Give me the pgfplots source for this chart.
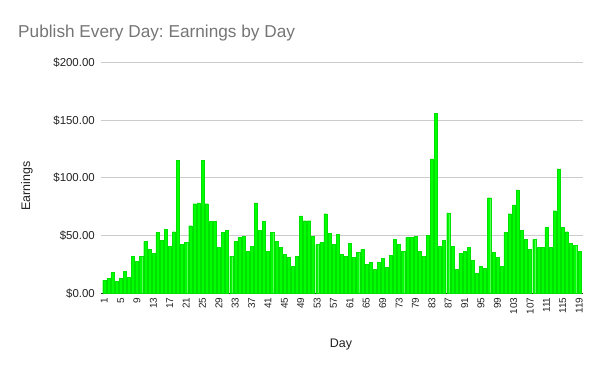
\documentclass[border=0pt]{standalone}
\usepackage{pgfplots}
\pgfplotsset{compat=1.18}
\usepackage{fontspec}
\setmainfont{Liberation Sans}
\frenchspacing
\definecolor{bargreen}{RGB}{0,255,0}
\definecolor{baredge}{RGB}{0,225,0}
\definecolor{gridgray}{RGB}{204,204,204}
\definecolor{titlegray}{RGB}{117,117,117}
\definecolor{txt}{RGB}{34,34,34}
\pgfplotstableread{
x y
1 11.2
2 12.9
3 18.1
4 10.3
5 12.9
6 19.0
7 13.8
8 32.2
9 27.6
10 32.2
11 44.8
12 37.9
13 34.5
14 52.6
15 45.7
16 55.2
17 40.5
18 53.4
19 115.5
20 42.2
21 44.0
22 58.6
23 77.6
24 78.4
25 115.5
26 77.6
27 62.1
28 62.1
29 39.7
30 52.6
31 54.3
32 32.2
33 44.8
34 48.3
35 49.1
36 36.2
37 40.5
38 78.4
39 54.3
40 62.1
41 36.2
42 52.6
43 44.8
44 39.7
45 33.6
46 31.0
47 23.3
48 32.2
49 67.2
50 62.9
51 62.9
52 49.1
53 42.2
54 44.0
55 69.0
56 51.7
57 42.2
58 50.9
59 33.6
60 31.9
61 43.1
62 31.0
63 35.3
64 37.9
65 25.0
66 26.7
67 20.7
68 26.7
69 30.2
70 22.4
71 32.8
72 46.6
73 42.2
74 36.2
75 48.3
76 48.3
77 49.1
78 36.2
79 31.9
80 50.0
81 116.4
82 156.0
83 40.5
84 45.7
85 69.8
86 40.5
87 20.7
88 34.5
89 36.2
90 39.7
91 28.4
92 17.2
93 23.3
94 21.6
95 82.8
96 35.3
97 31.0
98 23.3
99 52.6
100 69.0
101 76.7
102 89.7
103 54.3
104 46.6
105 37.9
106 46.6
107 39.7
108 39.7
109 56.9
110 39.7
111 71.6
112 107.8
113 56.9
114 53.4
115 43.1
116 41.4
117 36.2
}\earnings
\begin{document}
\begin{tikzpicture}
\useasboundingbox (-101bp,-77.7bp) rectangle (499bp,293.3bp);
\begin{axis}[
  scale only axis,
  width=481.5bp, height=230.8bp,
  xmin=0.2, xmax=117.8,
  ymin=0, ymax=200,
  ytick={0,50,100,150,200},
  yticklabels={\$0.00,\$50.00,\$100.00,\$150.00,\$200.00},
  xtick={1,5,...,117},
  xticklabels={1,5,9,13,17,21,25,29,33,37,41,45,49,53,57,61,65,69,73,79,83,87,91,95,99,103,107,111,115,119},
  /pgf/number format/assume math mode=true,
  axis x line*=bottom,
  axis y line*=left,
  y axis line style={draw=none},
  x axis line style={draw=black!80, line width=1.1bp},
  major tick length=0pt,
  ymajorgrids,
  grid style={gridgray, line width=0.9bp},
  yticklabel style={font=\fontsize{11.5}{13}\selectfont, text=txt, anchor=east, inner sep=0pt, xshift=-6bp},
  xticklabel style={font=\fontsize{10}{12}\selectfont, text=txt, rotate=90, anchor=east, inner sep=0pt, xshift=-4bp},
  clip=false,
]
\addplot[ybar, bar width=0.75, fill=bargreen, draw=baredge, line width=0.3bp] table[x=x,y=y] {\earnings};
\end{axis}
\node[anchor=base west, text=titlegray, font=\fontsize{17.3}{21}\selectfont, inner sep=0pt] at (-83bp,255.3bp) {Publish Every Day: Earnings by Day};
\node[rotate=90, text=txt, font=\fontsize{12.5}{15}\selectfont, inner sep=0pt] at (-74bp,107.3bp) {Earnings};
\node[text=txt, font=\fontsize{12.5}{15}\selectfont, inner sep=0pt] at (240bp,-51.7bp) {Day};
\end{tikzpicture}
\end{document}
